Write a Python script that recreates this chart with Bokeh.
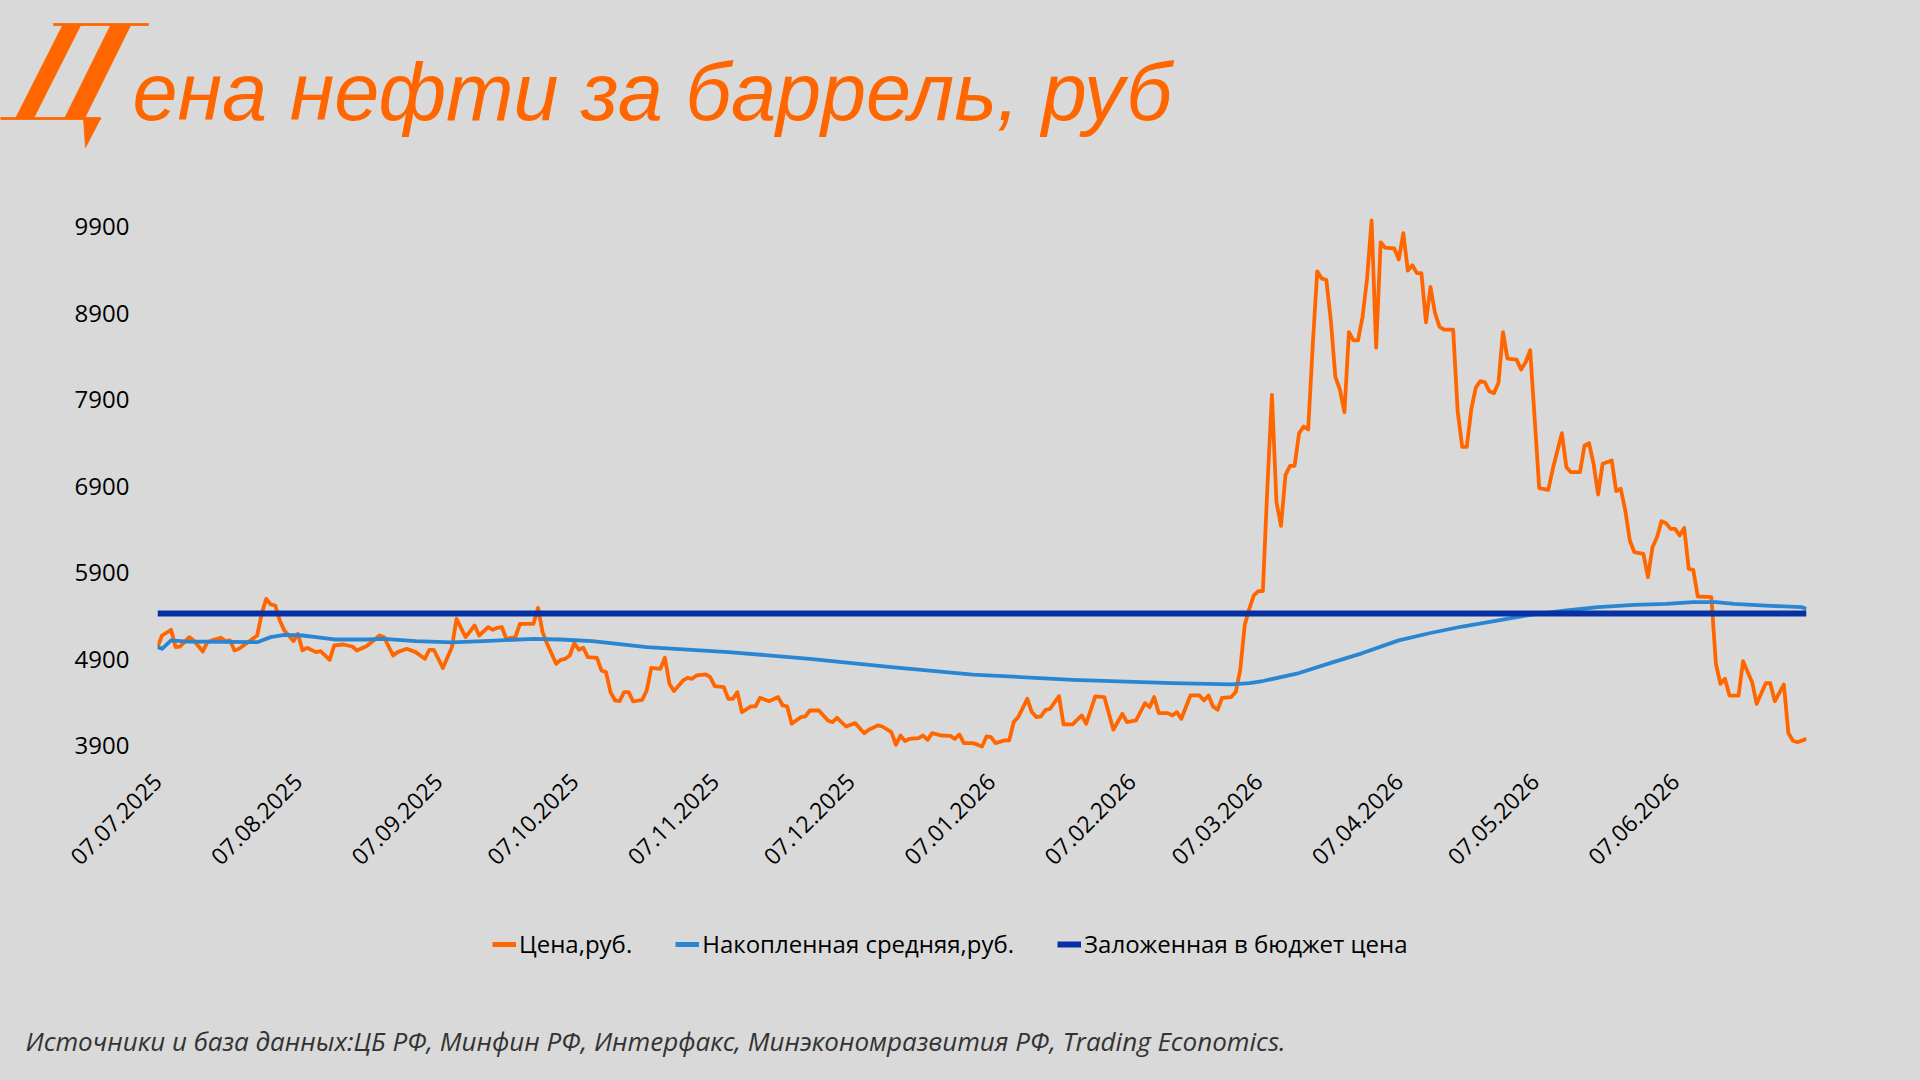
import datetime as dt
from math import pi

from bokeh.plotting import figure
from bokeh.models import (Range1d, FixedTicker, DatetimeTickFormatter, Legend,
                          LegendItem)
from bokeh.layouts import column
from bokeh.embed import file_html
from bokeh.resources import INLINE
from bokeh.core.properties import value

# ---------------- data ----------------
START = dt.datetime(2025, 7, 7)
END_DAY = 364

title_text = "ена нефти за баррель, руб"
source_text = ("Источники и база данных:ЦБ РФ,  Минфин РФ, Интерфакс, "
               "Минэкономразвития РФ, Trading Economics.")
series_names = ["Цена,руб.", "Накопленная средняя,руб.", "Заложенная в бюджет цена"]

# price, day offset from 07.07.2025
price_days = [0, 1, 3, 4, 5, 7, 8, 10, 11, 12, 14, 15, 16, 17, 18, 20, 22, 23, 24, 25,
              26, 27, 28, 30, 31, 32, 33, 35, 36, 38, 39, 41, 43, 44, 46, 47, 49, 50, 52, 53,
              55, 57, 59, 60, 61, 63, 65, 66, 68, 70, 71, 73, 74, 75, 76, 77, 79, 80, 83, 84,
              85, 86, 88, 89, 90, 91, 92, 93, 94, 95, 97, 98, 99, 100, 101, 102, 103, 104, 105, 107,
              108, 109, 111, 112, 113, 114, 116, 117, 118, 119, 121, 122, 123, 125, 126, 127, 128, 129, 131, 132,
              133, 135, 137, 138, 139, 140, 142, 143, 144, 146, 148, 149, 150, 152, 154, 156, 157, 159, 160, 162,
              163, 164, 165, 166, 168, 169, 170, 171, 173, 175, 176, 177, 178, 180, 181, 182, 183, 184, 185, 187,
              188, 189, 190, 192, 193, 194, 195, 196, 197, 199, 200, 202, 204, 205, 207, 209, 211, 213, 214, 216,
              218, 219, 220, 221, 223, 224, 225, 226, 228, 230, 231, 232, 233, 234, 235, 237, 238, 239, 240, 241,
              242, 243, 244, 245, 246, 247, 248, 249, 250, 251, 252, 253, 254, 255, 256, 257, 258, 259, 260, 261,
              262, 263, 264, 265, 266, 267, 268, 269, 270, 271, 273, 274, 275, 276, 277, 278, 279, 280, 281, 282,
              283, 284, 286, 287, 288, 289, 290, 291, 292, 293, 294, 295, 296, 297, 298, 300, 301, 302, 303, 305,
              307, 308, 310, 311, 312, 314, 315, 316, 317, 318, 319, 321, 322, 323, 324, 325, 326, 328, 329, 330,
              331, 332, 333, 334, 335, 336, 337, 338, 339, 340, 343, 344, 345, 346, 347, 349, 350, 352, 353, 355,
              356, 357, 359, 360, 361, 362, 364]
price_vals = [5043, 5177, 5243, 5043, 5050, 5158, 5120, 4993, 5100, 5120, 5150, 5112, 5120, 5004, 5023, 5100, 5177, 5428, 5601, 5536,
              5524, 5351, 5235, 5112, 5197, 5004, 5035, 4985, 4996, 4896, 5062, 5073, 5050, 5004, 5050, 5089, 5177, 5158, 4946, 4985,
              5023, 4985, 4908, 5012, 5012, 4800, 5043, 5370, 5158, 5293, 5177, 5274, 5243, 5266, 5274, 5139, 5158, 5312, 5312, 5497,
              5216, 5081, 4850, 4896, 4908, 4946, 5089, 5012, 5035, 4927, 4919, 4773, 4754, 4522, 4426, 4418, 4522, 4522, 4414, 4434,
              4542, 4804, 4792, 4919, 4619, 4534, 4657, 4688, 4676, 4715, 4727, 4696, 4592, 4580, 4445, 4445, 4522, 4291, 4357, 4357,
              4457, 4418, 4465, 4368, 4357, 4156, 4233, 4241, 4310, 4310, 4195, 4175, 4226, 4125, 4164, 4048, 4087, 4137, 4125, 4060,
              3913, 4021, 3956, 3983, 3990, 4021, 3971, 4048, 4021, 4017, 3983, 4033, 3933, 3933, 3915, 3894, 4010, 4002, 3933, 3964,
              3964, 4176, 4234, 4446, 4292, 4234, 4241, 4318, 4330, 4476, 4149, 4149, 4253, 4157, 4473, 4465, 4087, 4272, 4176, 4195,
              4395, 4349, 4465, 4280, 4280, 4253, 4291, 4214, 4484, 4484, 4426, 4484, 4357, 4318, 4457, 4465, 4523, 4780, 5300, 5486,
              5640, 5690, 5690, 6900, 7958, 6718, 6445, 7034, 7139, 7139, 7517, 7592, 7559, 8525, 9387, 9303, 9290, 8819, 8168, 8021,
              7760, 8685, 8588, 8588, 8861, 9303, 9975, 8504, 9723, 9660, 9651, 9525, 9828, 9395, 9458, 9366, 9366, 8798, 9206, 8903,
              8744, 8714, 8714, 7769, 7357, 7357, 7790, 8042, 8118, 8105, 8000, 7979, 8097, 8685, 8378, 8366, 8252, 8336, 8475, 6880,
              6861, 7104, 7516, 7123, 7065, 7065, 7373, 7400, 7162, 6807, 7162, 7200, 6846, 6873, 6622, 6275, 6140, 6121, 5851, 6198,
              6314, 6499, 6475, 6410, 6410, 6333, 6421, 5947, 5936, 5628, 5620, 4850, 4618, 4676, 4483, 4483, 4880, 4637, 4387, 4626,
              4626, 4417, 4610, 4050, 3960, 3943, 3982]

# cumulative average, day offset from 07.07.2025
avg_days = [0, 1, 3, 6, 22, 25, 28, 32, 35, 39, 46, 50, 57, 65, 72, 83, 89, 96, 108, 126,
            144, 162, 180, 202, 224, 237, 241, 244, 252, 259, 266, 274, 281, 288, 296, 303, 311, 318, 326, 333,
            339, 344, 348, 355, 363, 364]
avg_vals = [5043, 5023, 5120, 5108, 5100, 5158, 5185, 5177, 5158, 5131, 5131, 5139, 5112, 5097, 5112, 5139, 5131, 5112, 5043, 4985,
            4908, 4811, 4725, 4665, 4627, 4612, 4626, 4651, 4743, 4861, 4974, 5121, 5206, 5281, 5353, 5416, 5466, 5504, 5531, 5543,
            5562, 5562, 5543, 5523, 5504, 5485]

budget_days = [0, 364]
budget_vals = [5430, 5430]

y_ticks = [3900, 4900, 5900, 6900, 7900, 8900, 9900]
x_tick_dates = ["2025-07-07", "2025-08-07", "2025-09-07", "2025-10-07", "2025-11-07", "2025-12-07",
                "2026-01-07", "2026-02-07", "2026-03-07", "2026-04-07", "2026-05-07", "2026-06-07"]

# ---------------- style ----------------
BG = "#D9D9D9"
ORANGE = "#FF6600"
BLUE = "#2A86D2"
NAVY = "#0531A5"
W = 1920
H_HEAD, H_CHART, H_FOOT = 165, 730, 185


def to_dt(days):
    return [START + dt.timedelta(days=int(d)) for d in days]


def ms(s):
    d = dt.datetime.strptime(s, "%Y-%m-%d")
    return (d - dt.datetime(1970, 1, 1)).total_seconds() * 1000.0


def blank(height):
    f = figure(width=W, height=height, x_range=Range1d(0, W), y_range=Range1d(height, 0),
               x_axis_location=None, y_axis_location=None, output_backend="svg",
               toolbar_location=None, min_border=0, frame_align=False)
    f.grid.visible = False
    f.outline_line_color = None
    f.background_fill_color = None
    f.border_fill_color = BG
    return f


# ---------------- header ----------------
head = blank(H_HEAD)
logo_xs = [
    [53, 148, 148, 53],            # top bar
    [62, 80, 33, 15],              # left stroke
    [110, 130, 84, 64],            # right stroke
    [0, 100, 100, 0],              # bottom bar
    [83, 100, 85],                 # tail
]
logo_ys = [
    [23, 23, 25, 25],
    [25, 25, 118, 118],
    [25, 25, 118, 118],
    [117, 117, 119, 119],
    [118, 118, 147],
]
head.patches(logo_xs, logo_ys, fill_color=ORANGE, line_color=ORANGE, line_width=0.8)
head.text(x=[132], y=[91], text=[title_text], text_font=value("Liberation Sans"),
          text_font_style="italic", text_font_size="81px", text_color=ORANGE,
          text_baseline="alphabetic", text_align="left")

# ---------------- chart ----------------
p = figure(width=W, height=H_CHART, x_axis_type="datetime",
           x_range=Range1d(START, START + dt.timedelta(days=END_DAY)),
           y_range=Range1d(3732, 10206),
           output_backend="svg", toolbar_location=None, frame_align=False,
           min_border_left=157, min_border_right=114, min_border_top=35, min_border_bottom=135)
p.background_fill_color = None
p.border_fill_color = BG
p.outline_line_color = None
p.grid.visible = False

p.line(to_dt(price_days), price_vals, line_color=ORANGE, line_width=3.8, line_join="round")
p.line(to_dt(avg_days), avg_vals, line_color=BLUE, line_width=3.8, line_join="round")
p.line(to_dt(budget_days), budget_vals, line_color=NAVY, line_width=6)

p.yaxis.ticker = FixedTicker(ticks=y_ticks)
p.yaxis.axis_line_color = None
p.yaxis.major_tick_line_color = None
p.yaxis.minor_tick_line_color = None
p.yaxis.major_tick_out = 0
p.yaxis.major_tick_in = 0
p.yaxis.major_label_standoff = 28
p.yaxis.major_label_text_font = "Open Sans"
p.yaxis.major_label_text_font_size = "24px"
p.yaxis.major_label_text_color = "#000000"

fmt = "%d.%m.%Y"
p.xaxis.ticker = FixedTicker(ticks=[ms(s) for s in x_tick_dates])
p.xaxis.formatter = DatetimeTickFormatter(milliseconds=fmt, seconds=fmt, minsec=fmt, minutes=fmt,
                                          hourmin=fmt, hours=fmt, days=fmt, months=fmt, years=fmt)
p.xaxis.major_label_orientation = pi / 4
p.xaxis.axis_line_color = None
p.xaxis.major_tick_line_color = None
p.xaxis.minor_tick_line_color = None
p.xaxis.major_tick_out = 0
p.xaxis.major_tick_in = 0
p.xaxis.major_label_standoff = 17
p.xaxis.major_label_text_font = "Open Sans"
p.xaxis.major_label_text_font_size = "23px"
p.xaxis.major_label_text_color = "#000000"

# ---------------- footer (legend + sources) ----------------
foot = blank(H_FOOT)
# legend keys (lines kept outside the visible range, only their legend keys show)
off_x, off_y = [-50, -40], [-50, -50]
g1 = foot.line(off_x, off_y, line_color=ORANGE, line_width=5)
g2 = foot.line(off_x, off_y, line_color=BLUE, line_width=5)
g3 = foot.line(off_x, off_y, line_color=NAVY, line_width=6)
LEG_H = 30
legend = Legend(items=[LegendItem(label=series_names[0], renderers=[g1]),
                       LegendItem(label=series_names[1], renderers=[g2]),
                       LegendItem(label=series_names[2], renderers=[g3])],
                orientation="horizontal", location=(492, H_FOOT - 50 - LEG_H // 2),
                label_text_font="Open Sans", label_text_font_size="24px",
                label_text_color="#000000", glyph_width=24, glyph_height=LEG_H,
                label_height=LEG_H, label_standoff=3, spacing=43, padding=0, margin=0,
                background_fill_alpha=0, border_line_color=None)
foot.add_layout(legend)
foot.text(x=[25], y=[145], text=[source_text], text_font=value("Open Sans"),
          text_font_style="italic", text_font_size="26px", text_color="#333333",
          text_baseline="middle", text_align="left")

page = column(head, p, foot, spacing=0, styles={"background-color": BG})
open("out.html", "w").write(file_html(page, INLINE))
